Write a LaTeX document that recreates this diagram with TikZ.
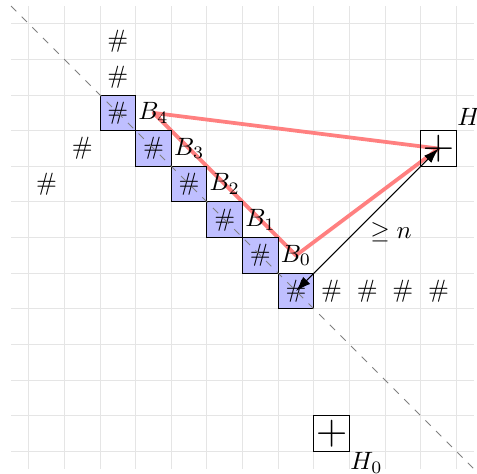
\documentclass[tikz,border=0pt]{standalone}
\usepackage{amsmath,amssymb}
\usepackage{tikz}
\usetikzlibrary{arrows.meta,backgrounds}

\begin{document}
\begin{tikzpicture}[scale=0.5,
    cellbox/.style={draw,fill=blue!25,minimum size=0.5cm,inner sep=0pt},
    hbox/.style={draw,minimum size=0.5cm,inner sep=0pt},
    blabel/.style={inner sep=0pt}]
  \useasboundingbox (-0.81,-0.61) rectangle (12.58,12.67);

  % Grid
  \begin{scope}[on background layer]
    \draw[gray!20,thin] (-0.5,-0.5) grid (12.5,12.5);
  \end{scope}

  % Loose symbols
  \node (u1) at (2.5,11.5) {\#};
  \node (u2) at (2.5,10.5) {\#};
  \node (u3) at (1.5,8.5) {\#};
  \node (u4) at (0.5,7.5) {\#};
  \node (r1) at (8.5,4.5) {\#};
  \node (r2) at (9.5,4.5) {\#};
  \node (r3) at (10.5,4.5) {\#};
  \node (r4) at (11.5,4.5) {\#};

  % Blue cells
  \node[cellbox] (sq4) at (2.5,9.5) {\#};
  \node[cellbox] (sq3) at (3.5,8.5) {\#};
  \node[cellbox] (sq2) at (4.5,7.5) {\#};
  \node[cellbox] (sq1) at (5.5,6.5) {\#};
  \node[cellbox] (sq0) at (6.5,5.5) {\#};
  \node[cellbox] (hd) at (7.5,4.5) {\#};

  % Diagonal
  \draw[gray,dashed] (-0.5,12.5) -- (12.5,-0.5);

  % Labels B_i
  \node[blabel] (B4) at (3.5,9.5) {$B_4$};
  \node[blabel] (B3) at (4.5,8.5) {$B_3$};
  \node[blabel] (B2) at (5.5,7.5) {$B_2$};
  \node[blabel] (B1) at (6.5,6.5) {$B_1$};
  \node[blabel] (B0) at (7.5,5.5) {$B_0$};

  % Boxes H
  \node[hbox] (h1) at (11.5,8.5) {\LARGE$+$};
  \node[hbox] (h0) at (8.5,0.5) {\LARGE$+$};
  \node[anchor=south west,inner sep=0pt] (lh1) at (h1.north east) {$H_1$};
  \node[anchor=north west,inner sep=0pt] (lh0) at (h0.south east) {$H_0$};

  % Red triangle
  \begin{scope}[on background layer]
    \draw[red!50,line width=1.5pt,line join=round] (B4.center) -- (B0.center) -- (h1.center) -- cycle;
  \end{scope}

  % Distance
  \draw[{Latex[length=6pt,width=4pt]}-{Latex[length=6pt,width=4pt]}] (h1.center) -- (hd.center)
    node[midway,below right,inner sep=1pt] {$\geq n$};
\end{tikzpicture}
\end{document}
